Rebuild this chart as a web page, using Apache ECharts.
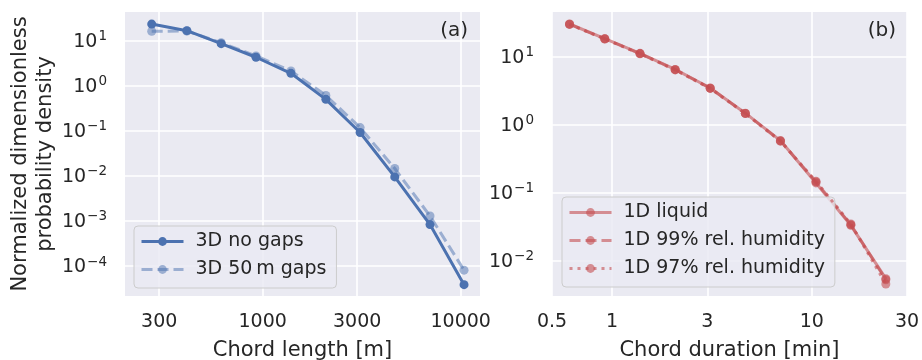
<!DOCTYPE html>
<html>
<head>
<meta charset="utf-8">
<script src="https://cdn.jsdelivr.net/npm/echarts@6/dist/echarts.min.js"></script>
<style>
html,body{margin:0;padding:0;background:#fff;}
#chart{width:922px;height:360px;}
</style>
</head>
<body>
<div id="chart"></div>
<script>
// ---- data ----
const chordLengthM = [275, 414, 617, 925, 1389, 2085, 3105, 4645, 7000, 10400];
const noGaps3D = [23.4, 16.7, 8.6, 4.3, 1.89, 0.50, 0.092, 0.0095, 0.00083, 0.0000385];
const gaps50m3D = [16.2, 16.4, 9.0, 4.6, 2.13, 0.61, 0.118, 0.0146, 0.00129, 0.000081];

const chordDurationMin = [0.612, 0.919, 1.38, 2.07, 3.10, 4.65, 6.97, 10.5, 15.7, 23.5];
const liquid1D = [30.2, 18.4, 11.2, 6.5, 3.47, 1.48, 0.586, 0.140, 0.0334, 0.0055];
const rh99_1D = [30.0, 18.3, 11.1, 6.45, 3.45, 1.47, 0.580, 0.145, 0.0340, 0.0053];
const rh97_1D = [29.8, 18.2, 11.0, 6.4, 3.42, 1.46, 0.575, 0.148, 0.0350, 0.0046];

const xTicksA = [300, 1000, 3000, 10000];
const xTicksB = [0.5, 1, 3, 10, 30];
const yTicksA = [10, 1, 0.1, 0.01, 0.001, 0.0001];
const yTicksB = [10, 1, 0.1, 0.01];

const seriesNamesA = ['3D no gaps', '3D 50\u2009m gaps'];
const seriesNamesB = ['1D liquid', '1D 99% rel. humidity', '1D 97% rel. humidity'];

// ---- helpers ----
function powLabel(v) {
  const e = Math.round(Math.log10(v));
  return '{b|10}{s|' + String(e).replace('-', '\u2212') + '}';
}
function plainLabel(v) { return String(+Number(v).toPrecision(6)); }
function pairs(xs, ys) { return xs.map((x, i) => [x, ys[i]]); }

const TXT = '#262626';
const FONT = 'DejaVu Sans';
const BLUE = '#4C72B0';
const BLUE_A = 'rgba(76,114,176,0.5)';
const RED_A = 'rgba(196,78,82,0.6)';

function xAxis(gridIndex, min, max, ticks, name) {
  return {
    type: 'log', gridIndex, min, max, logBase: 10,
    name, nameLocation: 'middle', nameGap: 44,
    nameTextStyle: {fontFamily: FONT, fontSize: 21, color: TXT},
    axisLine: {show: false}, axisTick: {show: false, customValues: ticks},
    axisLabel: {customValues: ticks, formatter: plainLabel, fontFamily: FONT, fontSize: 19, color: TXT, margin: 17,
                showMinLabel: true, showMaxLabel: true, hideOverlap: false},
    splitLine: {show: true, lineStyle: {color: '#fff', width: 1.6}}
  };
}
function yAxis(gridIndex, min, max, ticks, name) {
  const a = {
    type: 'log', gridIndex, min, max, logBase: 10,
    axisLine: {show: false}, axisTick: {show: false, customValues: ticks},
    axisLabel: {customValues: ticks, formatter: powLabel, color: TXT, margin: 18,
                showMinLabel: true, showMaxLabel: true,
                rich: {
                  b: {fontFamily: FONT, fontSize: 19, color: TXT, lineHeight: 22, verticalAlign: 'bottom'},
                  s: {fontFamily: FONT, fontSize: 13.5, color: TXT, lineHeight: 22, verticalAlign: 'top', padding: [0, 0, 0, 1]}
                }},
    splitLine: {show: true, lineStyle: {color: '#fff', width: 1.6}}
  };
  if (name) {
    a.name = name; a.nameLocation = 'middle'; a.nameGap = 67;
    a.nameTextStyle = {fontFamily: FONT, fontSize: 21, color: TXT, lineHeight: 25};
  }
  return a;
}
function lineSeries(name, xi, data, color, type, z) {
  return {
    name, type: 'line', xAxisIndex: xi, yAxisIndex: xi, data,
    symbol: 'circle', symbolSize: 9, showSymbol: true,
    lineStyle: {color, width: 3, type},
    itemStyle: {color, borderWidth: 0},
    emphasis: {disabled: true}, animation: false, z
  };
}
function legend(data, left, top) {
  return {
    data, orient: 'vertical', left, top,
    itemWidth: 42, itemHeight: 11, itemGap: 9,
    padding: [6, 10, 9, 6],
    backgroundColor: 'rgba(234,234,242,0.8)', borderColor: '#CCCCCC', borderWidth: 1, borderRadius: 4,
    lineStyle: {width: 3},
    textStyle: {fontFamily: FONT, fontSize: 19, color: TXT, padding: [0, 0, 0, 7]},
    selectedMode: false
  };
}

const chart = echarts.init(document.getElementById('chart'), null, {renderer: 'canvas'});
chart.setOption({
  backgroundColor: '#fff',
  animation: false,
  grid: [
    {left: 125, top: 12, width: 355, height: 284, show: true, backgroundColor: '#EAEAF2', borderWidth: 0,
     containLabel: false, outerBoundsMode: 'none'},
    {left: 552, top: 12, width: 355, height: 284, show: true, backgroundColor: '#EAEAF2', borderWidth: 0,
     containLabel: false, outerBoundsMode: 'none'}
  ],
  xAxis: [
    xAxis(0, 201.6, 12520, xTicksA, 'Chord length [m]'),
    xAxis(1, 0.5, 30, xTicksB, 'Chord duration [min]')
  ],
  yAxis: [
    yAxis(0, 2.16e-5, 43.4, yTicksA, 'Normalized dimensionless\nprobability density'),
    yAxis(1, 0.00306, 45.3, yTicksB, null)
  ],
  legend: [
    legend(seriesNamesA, 134, 226),
    legend(seriesNamesB, 562, 197)
  ],
  graphic: [
    {type: 'text', right: 922 - 468, top: 21, style: {text: '(a)', font: '20px "DejaVu Sans"', fill: TXT}},
    {type: 'text', right: 922 - 896, top: 21, style: {text: '(b)', font: '20px "DejaVu Sans"', fill: TXT}}
  ],
  series: [
    lineSeries(seriesNamesA[1], 0, pairs(chordLengthM, gaps50m3D), BLUE_A, [11, 5], 2),
    lineSeries(seriesNamesA[0], 0, pairs(chordLengthM, noGaps3D), BLUE, 'solid', 3),
    lineSeries(seriesNamesB[0], 1, pairs(chordDurationMin, liquid1D), RED_A, 'solid', 2),
    lineSeries(seriesNamesB[1], 1, pairs(chordDurationMin, rh99_1D), RED_A, [11, 5], 3),
    lineSeries(seriesNamesB[2], 1, pairs(chordDurationMin, rh97_1D), RED_A, [3, 5], 4)
  ]
});
</script>
</body>
</html>
